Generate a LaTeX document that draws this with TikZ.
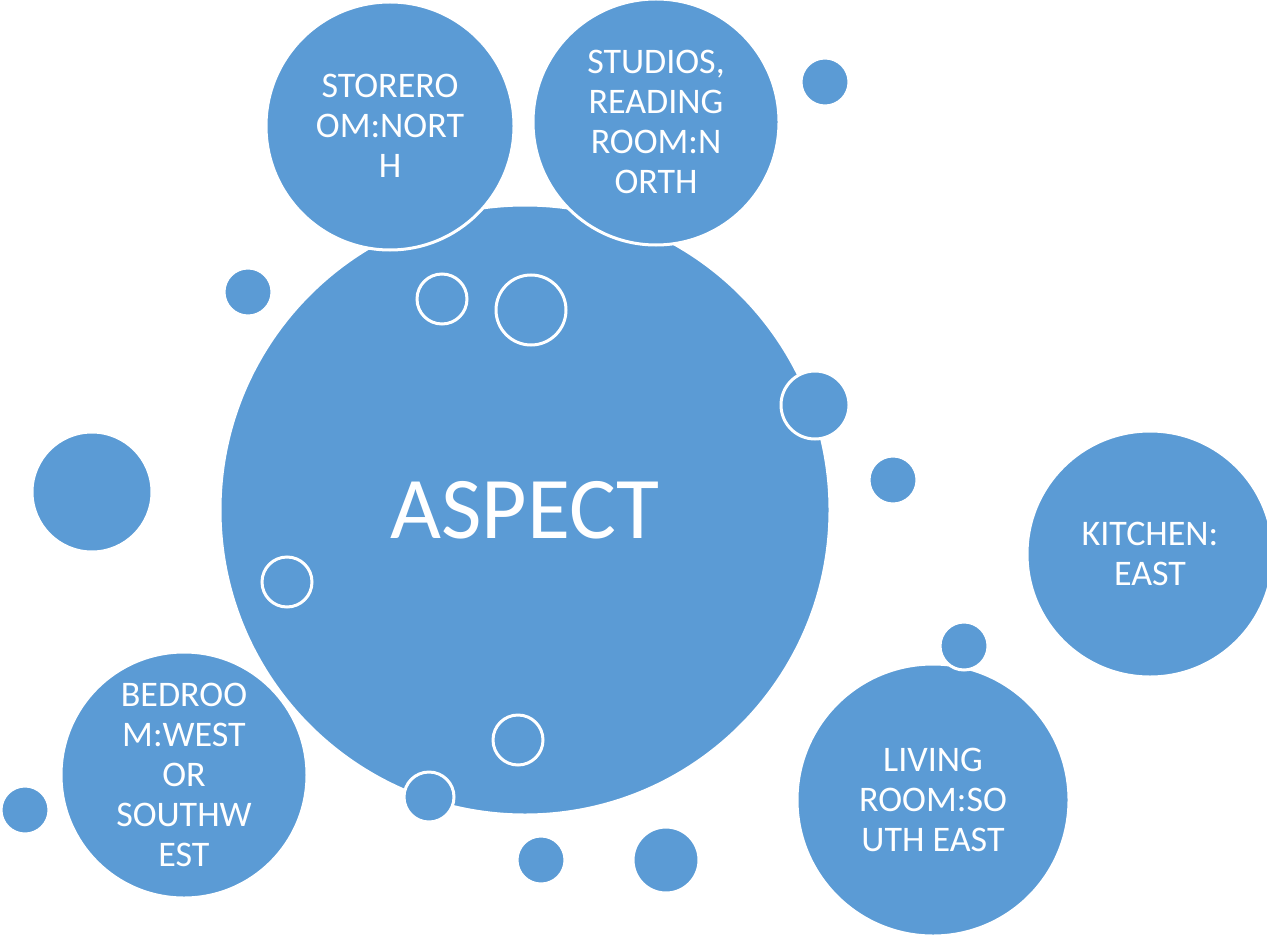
\documentclass[tikz,border=0pt]{standalone}
\usepackage{fontspec}
\setmainfont{Carlito}
\definecolor{bub}{HTML}{5B9BD5}
\begin{document}
\begin{tikzpicture}[x=0.5pt,y=-0.5pt,
  bubble/.style={circle,fill=bub,draw=white,line width=1.5pt,inner sep=0pt,text=white,align=center,
    font=\fontsize{18}{20}\selectfont},
  dot/.style={circle,fill=bub,draw=white,line width=1.5pt,inner sep=0pt}]
\useasboundingbox (0,0) rectangle (1267,936);
\node[bubble,minimum size=610*0.5pt,font=\fontsize{44}{48}\selectfont] (main) at (525,510) {ASPECT};
\node[bubble,minimum size=248*0.5pt] (store) at (390,126) {STORERO\\OM:NORT\\H};
\node[bubble,minimum size=246*0.5pt] (stud) at (656,122) {STUDIOS,\\READING\\ROOM:N\\ORTH};
\node[bubble,minimum size=246*0.5pt] (kit) at (1150,554) {KITCHEN:\\EAST};
\node[bubble,minimum size=272*0.5pt] (liv) at (933,800) {LIVING\\ROOM:SO\\UTH EAST};
\node[bubble,minimum size=246*0.5pt] (bed) at (184,775) {BEDROO\\M:WEST\\OR\\SOUTHW\\EST};
\node[dot,minimum size=48*0.5pt] (a) at (825,82) {};
\node[dot,minimum size=48*0.5pt] (b) at (248,292) {};
\node[dot,minimum size=50*0.5pt] (c) at (442,299) {};
\node[dot,minimum size=70*0.5pt] (d) at (531,310) {};
\node[dot,minimum size=68*0.5pt] (e) at (815,405) {};
\node[dot,minimum size=48*0.5pt] (f) at (893,480) {};
\node[dot,minimum size=120*0.5pt] (g) at (92,492) {};
\node[dot,minimum size=50*0.5pt] (h) at (287,582) {};
\node[dot,minimum size=50*0.5pt] (i) at (518,740) {};
\node[dot,minimum size=50*0.5pt] (j) at (429,797) {};
\node[dot,minimum size=48*0.5pt] (k) at (964,646) {};
\node[dot,minimum size=48*0.5pt] (l) at (25,810) {};
\node[dot,minimum size=48*0.5pt] (m) at (541,860) {};
\node[dot,minimum size=66*0.5pt] (n) at (666,860) {};
\end{tikzpicture}
\end{document}
